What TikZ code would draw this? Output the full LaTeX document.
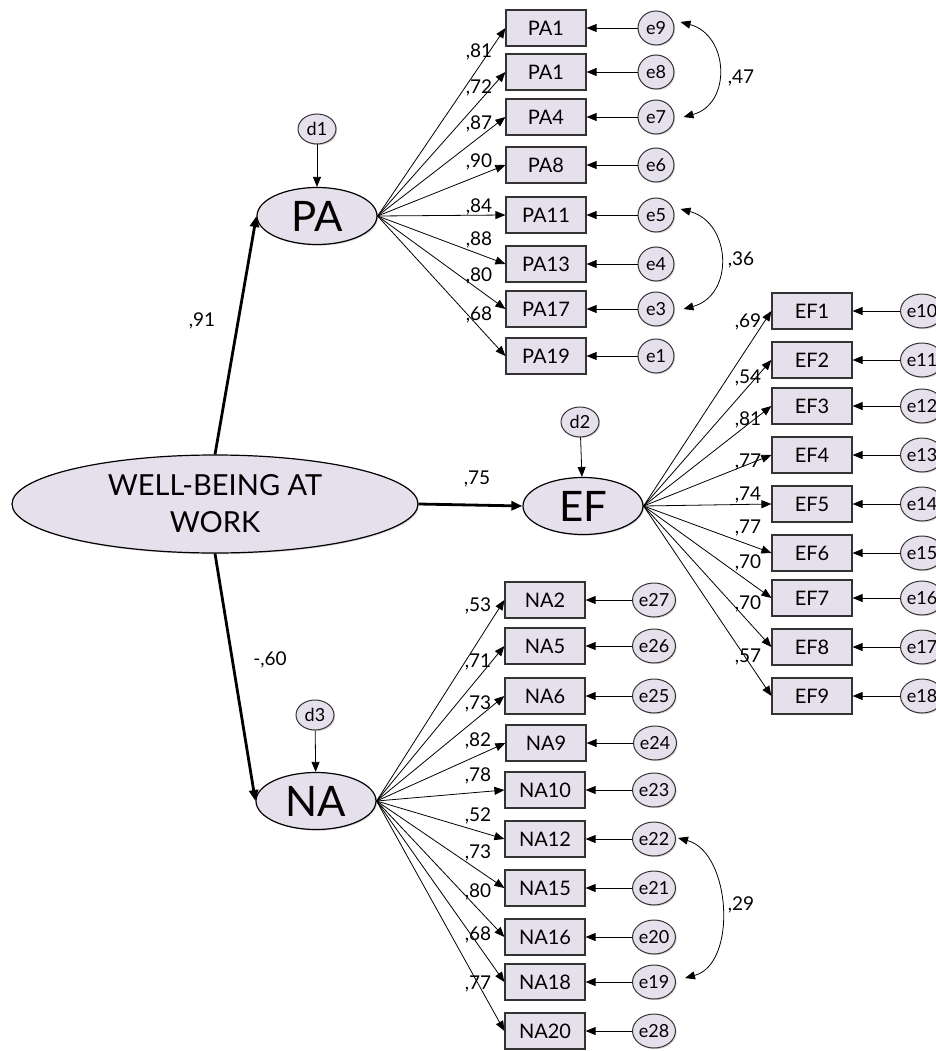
\documentclass[tikz,border=0pt]{standalone}
\usepackage{fontspec}
\setmainfont{Lato}
\usetikzlibrary{arrows.meta,shapes.geometric,shadows}
\definecolor{fillc}{RGB}{229,224,236}
\begin{document}
\begin{tikzpicture}[x=1pt,y=1pt,
  shad/.style={drop shadow={shadow xshift=1.2pt,shadow yshift=-1.2pt,opacity=0.25,fill=black!60}},
  obs/.style={draw=black!80,line width=1.2pt,fill=fillc,minimum width=80pt,minimum height=36pt,inner sep=0pt,font=\fontsize{20}{22}\selectfont,shad},
  err/.style={ellipse,draw=black!80,line width=1pt,fill=fillc,minimum width=36pt,minimum height=34pt,inner sep=0pt,font=\fontsize{18}{20}\selectfont,shad},
  dist/.style={err,minimum width=38pt,minimum height=30pt},
  lat/.style={ellipse,draw=black,line width=1.2pt,fill=fillc,minimum width=120pt,minimum height=57pt,inner sep=0pt,font=\fontsize{42}{44}\selectfont,shad},
  ld/.style={-{Triangle[length=10pt,width=8pt]},line width=0.8pt},
  thickpath/.style={-{Triangle[length=11pt,width=9pt]},line width=2.8pt},
  lab/.style={font=\fontsize{19}{20}\selectfont,inner sep=0pt},
  cov/.style={{Triangle[length=10pt,width=8pt]}-{Triangle[length=10pt,width=8pt]},line width=0.8pt},
]
\useasboundingbox (0,0) rectangle (935,-1051);

% main latent
\node[ellipse,draw=black,line width=1.2pt,fill=fillc,minimum width=406pt,minimum height=98pt,inner sep=0pt,align=center,font=\fontsize{29}{37}\selectfont,shad] (wb) at (215,-504) {WELL-BEING AT\\WORK};
\node[lat] (pa) at (317,-216) {PA};
\node[lat] (ef) at (583,-506) {EF};
\node[lat] (na) at (316,-801) {NA};

\node[dist] (d1) at (317,-129) {d1};
\node[dist] (d2) at (580,-422) {d2};
\node[dist] (d3) at (315,-715) {d3};
\draw[ld] (d1) -- (pa);
\draw[ld] (d2) -- (ef);
\draw[ld] (d3) -- (na);

\draw[thickpath] (wb.north) -- (pa.west);
\draw[thickpath] (wb.east) -- (ef.west);
\draw[thickpath] (wb.south) -- (na.west);
\node[lab] at (202,-321) {,91};
\node[lab] at (477,-479) {,75};
\node[lab] at (270,-660) {-,60};

% PA indicators
\node[obs] (pa1a) at (546,-28) {PA1};
\node[obs] (pa1b) at (546,-72) {PA1};
\node[obs] (pa4) at (546,-117) {PA4};
\node[obs] (pa8) at (546,-165) {PA8};
\node[obs] (pa11) at (546,-215) {PA11};
\node[obs] (pa13) at (546,-264) {PA13};
\node[obs] (pa17) at (546,-309) {PA17};
\node[obs] (pa19) at (546,-356) {PA19};
\node[err] (e9) at (656,-28) {e9};
\node[err] (e8) at (656,-72) {e8};
\node[err] (e7) at (656,-117) {e7};
\node[err] (e6) at (656,-165) {e6};
\node[err] (e5) at (656,-215) {e5};
\node[err] (e4) at (656,-264) {e4};
\node[err] (e3) at (656,-309) {e3};
\node[err] (e1) at (656,-356) {e1};
\foreach \b/\e in {pa1a/e9,pa1b/e8,pa4/e7,pa8/e6,pa11/e5,pa13/e4,pa17/e3,pa19/e1}{
  \draw[ld] (pa.east) -- (\b.west);
  \draw[ld] (\e.west) -- (\b.east);
}
\foreach \t/\y in {81/52,72/88,87/124,90/162,84/207,88/240,80/276,68/315}{
  \node[lab] at (479,-\y) {,\t};
}

% EF indicators
\node[obs] (ef1) at (812,-311) {EF1};
\node[obs] (ef2) at (812,-360) {EF2};
\node[obs] (ef3) at (812,-406) {EF3};
\node[obs] (ef4) at (812,-455) {EF4};
\node[obs] (ef5) at (812,-504) {EF5};
\node[obs] (ef6) at (812,-553) {EF6};
\node[obs] (ef7) at (812,-598) {EF7};
\node[obs] (ef8) at (812,-647) {EF8};
\node[obs] (ef9) at (812,-696) {EF9};
\node[err] (e10) at (922,-311) {e10};
\node[err] (e11) at (922,-360) {e11};
\node[err] (e12) at (922,-406) {e12};
\node[err] (e13) at (922,-455) {e13};
\node[err] (e14) at (922,-504) {e14};
\node[err] (e15) at (922,-553) {e15};
\node[err] (e16) at (922,-598) {e16};
\node[err] (e17) at (922,-647) {e17};
\node[err] (e18) at (922,-696) {e18};
\foreach \b/\e in {ef1/e10,ef2/e11,ef3/e12,ef4/e13,ef5/e14,ef6/e15,ef7/e16,ef8/e17,ef9/e18}{
  \draw[ld] (ef.east) -- (\b.west);
  \draw[ld] (\e.west) -- (\b.east);
}
\foreach \t/\y in {69/322,54/378,81/420,77/462,74/495,77/528,70/563,70/604,57/657}{
  \node[lab] at (748,-\y) {,\t};
}

% NA indicators
\node[obs] (na2) at (545,-600) {NA2};
\node[obs] (na5) at (545,-646) {NA5};
\node[obs] (na6) at (545,-696) {NA6};
\node[obs] (na9) at (546,-743) {NA9};
\node[obs] (na10) at (545,-790) {NA10};
\node[obs] (na12) at (545,-839) {NA12};
\node[obs] (na15) at (545,-888) {NA15};
\node[obs] (na16) at (545,-937) {NA16};
\node[obs] (na18) at (545,-982) {NA18};
\node[obs] (na20) at (545,-1031) {NA20};
\node[err] (e27) at (654,-600) {e27};
\node[err] (e26) at (654,-646) {e26};
\node[err] (e25) at (654,-696) {e25};
\node[err] (e24) at (655,-743) {e24};
\node[err] (e23) at (654,-790) {e23};
\node[err] (e22) at (654,-839) {e22};
\node[err] (e21) at (654,-888) {e21};
\node[err] (e20) at (654,-937) {e20};
\node[err] (e19) at (654,-982) {e19};
\node[err] (e28) at (654,-1031) {e28};
\foreach \b/\e in {na2/e27,na5/e26,na6/e25,na9/e24,na10/e23,na12/e22,na15/e21,na16/e20,na18/e19,na20/e28}{
  \draw[ld] (na.east) -- (\b.west);
  \draw[ld] (\e.west) -- (\b.east);
}
\foreach \t/\y in {53/606,71/662,73/704,82/741,78/776,52/816,73/853,80/892,68/935,77/984}{
  \node[lab] at (478,-\y) {,\t};
}

% covariances
\draw[cov] ([shift={(6,6)}]e9.east) to[out=-15,in=15,looseness=1.35] ([shift={(9,0)}]e7.east);
\draw[cov] ([shift={(6,6)}]e5.east) to[out=-15,in=15,looseness=1.35] ([shift={(9,0)}]e3.east);
\draw[cov] ([shift={(2,1)}]e22.east) to[out=-15,in=15,looseness=1.0] ([shift={(9,4)}]e19.east);
\node[lab] at (741,-78) {,47};
\node[lab] at (741,-260) {,36};
\node[lab] at (741,-905) {,29};
\end{tikzpicture}
\end{document}
